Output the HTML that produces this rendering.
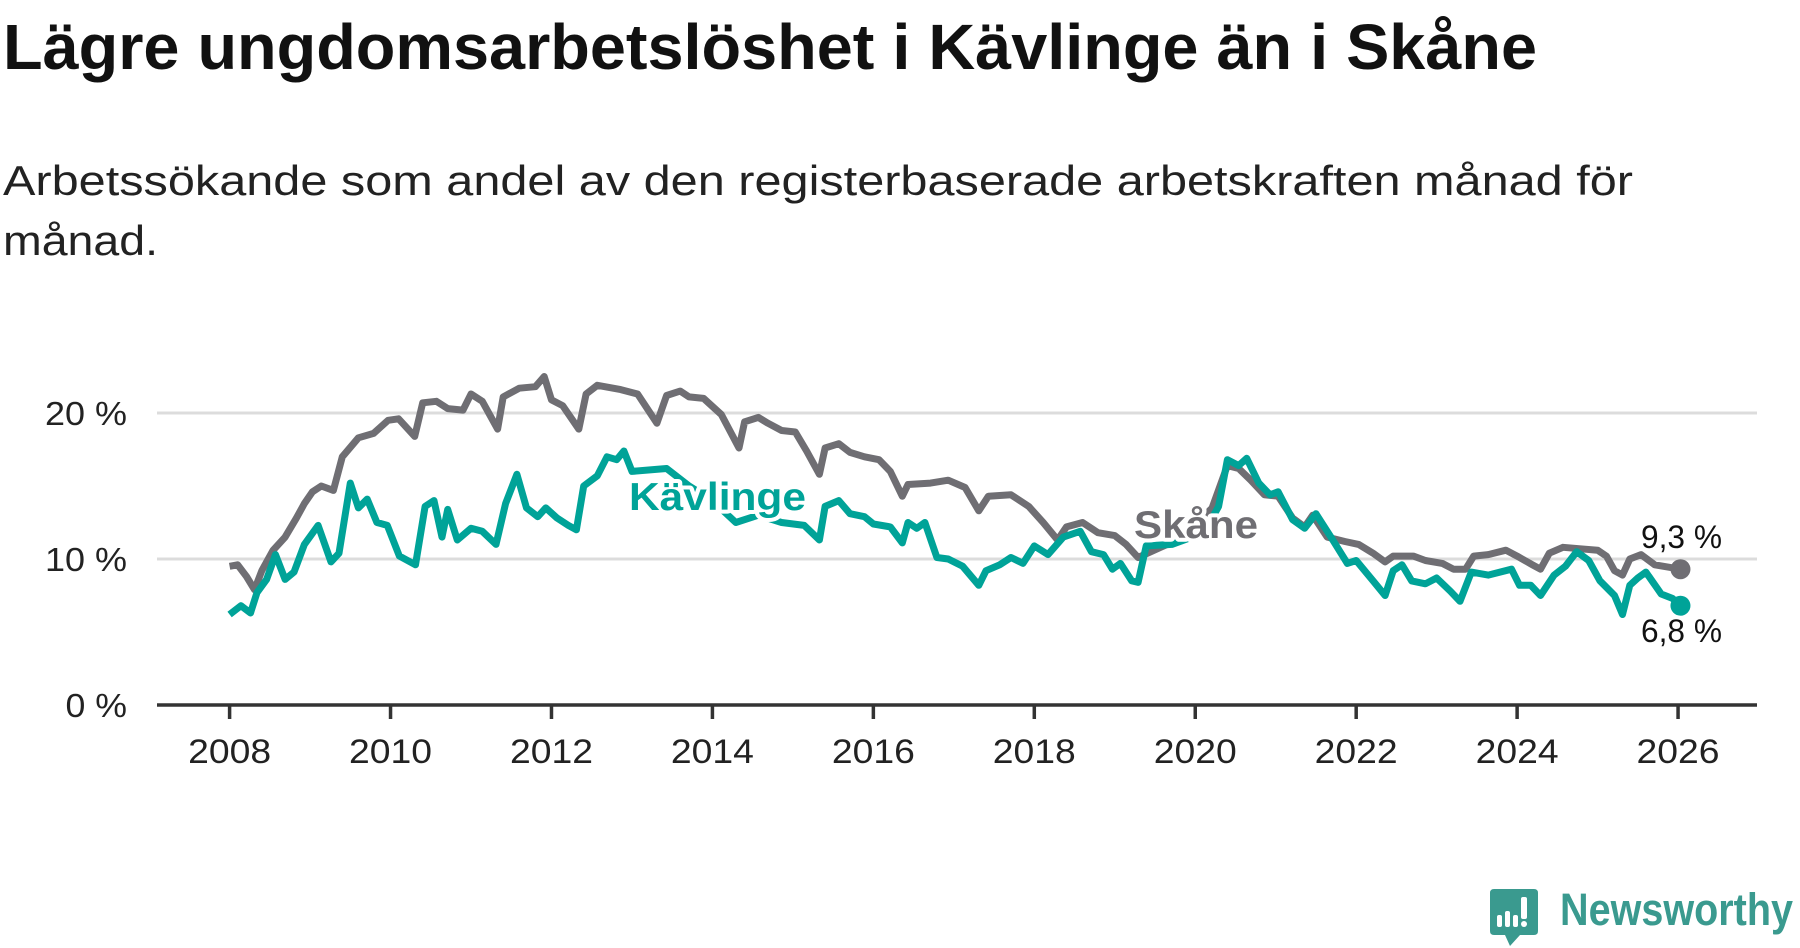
<!DOCTYPE html>
<html><head><meta charset="utf-8"><style>
html,body{margin:0;padding:0;background:#fff;}
svg{display:block;font-family:"Liberation Sans",sans-serif;}
</style></head><body>
<svg width="1800" height="948" viewBox="0 0 1800 948" id="chart">
<text x="3" y="69" font-size="64" font-weight="bold" fill="#111" textLength="1534" lengthAdjust="spacingAndGlyphs">Lägre ungdomsarbetslöshet i Kävlinge än i Skåne</text>
<text x="3" y="195" font-size="42" fill="#222" textLength="1630" lengthAdjust="spacingAndGlyphs">Arbetssökande som andel av den registerbaserade arbetskraften månad för</text>
<text x="3" y="255" font-size="42" fill="#222" textLength="155" lengthAdjust="spacingAndGlyphs">månad.</text>
<g id="grid"></g>
<g id="axes"></g>
<g id="series"></g>
<g id="labels"></g>
<g>
<path d="M1494 889 H1534 Q1538 889 1538 893 V931 Q1538 935 1534 935 H1520 L1510 946 L1505 935 H1494 Q1490 935 1490 931 V893 Q1490 889 1494 889 Z" fill="#3a9a8f"/>
<rect x="1497" y="915" width="5" height="12" rx="2" fill="#fff"/>
<rect x="1505" y="911" width="5" height="16" rx="2" fill="#fff"/>
<rect x="1513" y="915" width="5" height="12" rx="2" fill="#fff"/>
<rect x="1521" y="897" width="6" height="22" rx="2" fill="#fff"/>
<circle cx="1524" cy="924" r="3" fill="#fff"/>
<text x="1560" y="925" font-size="45" font-weight="bold" fill="#3a9a8f" textLength="233" lengthAdjust="spacingAndGlyphs">Newsworthy</text>
</g>
</svg>
<script>
const yTicks=[0,10,20];
const yTickLabels=["0 %","10 %","20 %"];
const xTicks=[2008,2010,2012,2014,2016,2018,2020,2022,2024,2026];
const skaneDates=[2008.00,2008.10,2008.21,2008.31,2008.40,2008.54,2008.69,2008.83,2008.93,2009.03,2009.14,2009.29,2009.40,2009.60,2009.79,2009.97,2010.10,2010.30,2010.40,2010.57,2010.71,2010.90,2011.00,2011.14,2011.33,2011.40,2011.60,2011.80,2011.91,2012.00,2012.14,2012.34,2012.43,2012.57,2012.86,2013.07,2013.31,2013.43,2013.60,2013.71,2013.89,2014.11,2014.33,2014.40,2014.57,2014.69,2014.86,2015.03,2015.17,2015.33,2015.40,2015.57,2015.71,2015.89,2016.07,2016.21,2016.36,2016.43,2016.71,2016.93,2017.14,2017.31,2017.43,2017.71,2017.93,2018.11,2018.29,2018.40,2018.60,2018.79,2019.00,2019.14,2019.29,2019.57,2019.86,2020.21,2020.40,2020.54,2020.69,2020.86,2021.03,2021.21,2021.36,2021.46,2021.64,2021.86,2022.03,2022.21,2022.36,2022.46,2022.71,2022.86,2023.07,2023.21,2023.36,2023.46,2023.64,2023.86,2024.00,2024.19,2024.29,2024.40,2024.57,2024.79,2025.00,2025.11,2025.21,2025.31,2025.40,2025.54,2025.71,2026.03];
const skaneValues=[9.5,9.6,8.8,7.9,9.2,10.6,11.5,12.8,13.8,14.6,15.0,14.7,17.0,18.3,18.6,19.5,19.6,18.4,20.7,20.8,20.3,20.2,21.3,20.8,18.9,21.1,21.7,21.8,22.5,20.9,20.5,18.9,21.3,21.9,21.6,21.3,19.3,21.2,21.5,21.1,21.0,19.9,17.6,19.4,19.7,19.3,18.8,18.7,17.4,15.8,17.6,17.9,17.3,17.0,16.8,16.0,14.3,15.1,15.2,15.4,14.9,13.3,14.3,14.4,13.6,12.5,11.3,12.2,12.5,11.8,11.6,11.0,10.1,10.8,11.5,13.5,16.4,16.2,15.4,14.4,14.3,12.8,12.2,13.0,11.5,11.2,11.0,10.4,9.8,10.2,10.2,9.9,9.7,9.3,9.3,10.2,10.3,10.6,10.2,9.6,9.3,10.4,10.8,10.7,10.6,10.2,9.2,8.9,10.0,10.3,9.6,9.3];
const kavDates=[2008.00,2008.14,2008.26,2008.34,2008.46,2008.57,2008.69,2008.80,2008.93,2009.10,2009.26,2009.36,2009.50,2009.60,2009.71,2009.83,2009.96,2010.11,2010.31,2010.43,2010.54,2010.64,2010.71,2010.83,2011.00,2011.14,2011.31,2011.43,2011.57,2011.69,2011.83,2011.93,2012.07,2012.21,2012.31,2012.40,2012.57,2012.69,2012.81,2012.90,2013.00,2013.43,2013.71,2014.00,2014.29,2014.57,2014.86,2015.14,2015.33,2015.40,2015.57,2015.71,2015.89,2016.00,2016.21,2016.36,2016.43,2016.54,2016.64,2016.79,2016.93,2017.11,2017.31,2017.40,2017.57,2017.71,2017.86,2018.00,2018.17,2018.36,2018.57,2018.71,2018.86,2018.97,2019.07,2019.21,2019.29,2019.39,2019.71,2020.11,2020.29,2020.40,2020.54,2020.64,2020.79,2020.93,2021.03,2021.21,2021.36,2021.50,2021.71,2021.89,2022.00,2022.21,2022.36,2022.46,2022.57,2022.69,2022.86,2023.00,2023.17,2023.29,2023.43,2023.64,2023.93,2024.03,2024.17,2024.29,2024.46,2024.60,2024.74,2024.89,2025.03,2025.21,2025.31,2025.40,2025.50,2025.60,2025.79,2025.93,2026.03];
const kavValues=[6.2,6.8,6.3,7.7,8.6,10.3,8.6,9.1,11.0,12.3,9.8,10.4,15.2,13.5,14.1,12.5,12.3,10.2,9.6,13.6,14.0,11.5,13.4,11.3,12.1,11.9,11.0,13.8,15.8,13.5,12.9,13.5,12.8,12.3,12.0,15.0,15.7,17.0,16.8,17.4,16.0,16.2,15.0,14.0,12.5,13.0,12.5,12.3,11.3,13.6,14.0,13.1,12.9,12.4,12.2,11.1,12.5,12.1,12.5,10.1,10.0,9.5,8.2,9.2,9.6,10.1,9.7,10.9,10.3,11.5,11.9,10.5,10.3,9.3,9.7,8.5,8.4,10.9,11.0,11.8,13.6,16.8,16.4,16.9,15.2,14.4,14.6,12.7,12.1,13.1,11.3,9.7,9.9,8.5,7.5,9.2,9.6,8.5,8.3,8.7,7.8,7.1,9.1,8.9,9.3,8.2,8.2,7.5,8.9,9.5,10.5,9.9,8.5,7.5,6.2,8.2,8.7,9.1,7.6,7.3,6.8];
const endLabels=["9,3 %","6,8 %"];
const NS='http://www.w3.org/2000/svg';
const xS=y=>229.6+(y-2008)*80.47;
const yS=v=>705-v*14.6;
function mk(tag,attrs,parent){const e=document.createElementNS(NS,tag);for(const k in attrs)e.setAttribute(k,attrs[k]);parent.appendChild(e);return e;}
const grid=document.getElementById('grid'),axes=document.getElementById('axes'),series=document.getElementById('series'),labels=document.getElementById('labels');
yTicks.forEach((t,i)=>{
  if(t>0){const g=mk('line',{x1:157,x2:1757,y1:yS(t),y2:yS(t),stroke:'#dcdcdc','stroke-width':3},grid);
  
  }
  const tx=mk('text',{x:127,y:yS(t)+12,'font-size':33,fill:'#222','text-anchor':'end',textLength:yTickLabels[i].length*20.5,lengthAdjust:'spacingAndGlyphs'},axes);
  
  
  tx.textContent=yTickLabels[i];
});
const ax=mk('line',{x1:157,x2:1757,y1:705,y2:705,stroke:'#333','stroke-width':3.5},axes);


xTicks.forEach(t=>{
  const tk=mk('line',{x1:xS(t),x2:xS(t),y1:705,y2:719,stroke:'#333','stroke-width':3.5},axes);
  
  
  const tl=mk('text',{x:xS(t),y:763,'font-size':34,fill:'#222','text-anchor':'middle',textLength:83,lengthAdjust:'spacingAndGlyphs'},axes);
  
  
  tl.textContent=t;
});
function line(d,v,color,name){
  const p=mk('path',{d:d.map((x,i)=>(i?'L':'M')+xS(x).toFixed(1)+' '+yS(v[i]).toFixed(1)).join(''),fill:'none',stroke:color,'stroke-width':7,'stroke-linejoin':'round'},series);
  
  
  const c=mk('circle',{cx:xS(d[d.length-1]),cy:yS(v[v.length-1]),r:10,fill:color},series);
  
  
}
line(skaneDates,skaneValues,'#6f6e73','skane-line');
line(kavDates,kavValues,'#00a398','kavlinge-line');
function lab(x,y,txt,color,name,size,bold,len){
  const t=mk('text',{x:x,y:y,'font-size':size,'font-weight':bold?'bold':'normal',fill:color,stroke:'#fff','stroke-width':8,'paint-order':'stroke','stroke-linejoin':'round',textLength:len,lengthAdjust:'spacingAndGlyphs'},labels);
  
  
  t.textContent=txt;
}
lab(629,510,'Kävlinge','#00a398','kavlinge-label',39,true,177);
lab(1134,538,'Skåne','#6f6e73','skane-label',39,true,124);
lab(1641,548,endLabels[0],'#111','skane-end-value',32,false,81);
lab(1641,642,endLabels[1],'#111','kavlinge-end-value',32,false,81);
</script>
</body></html>
